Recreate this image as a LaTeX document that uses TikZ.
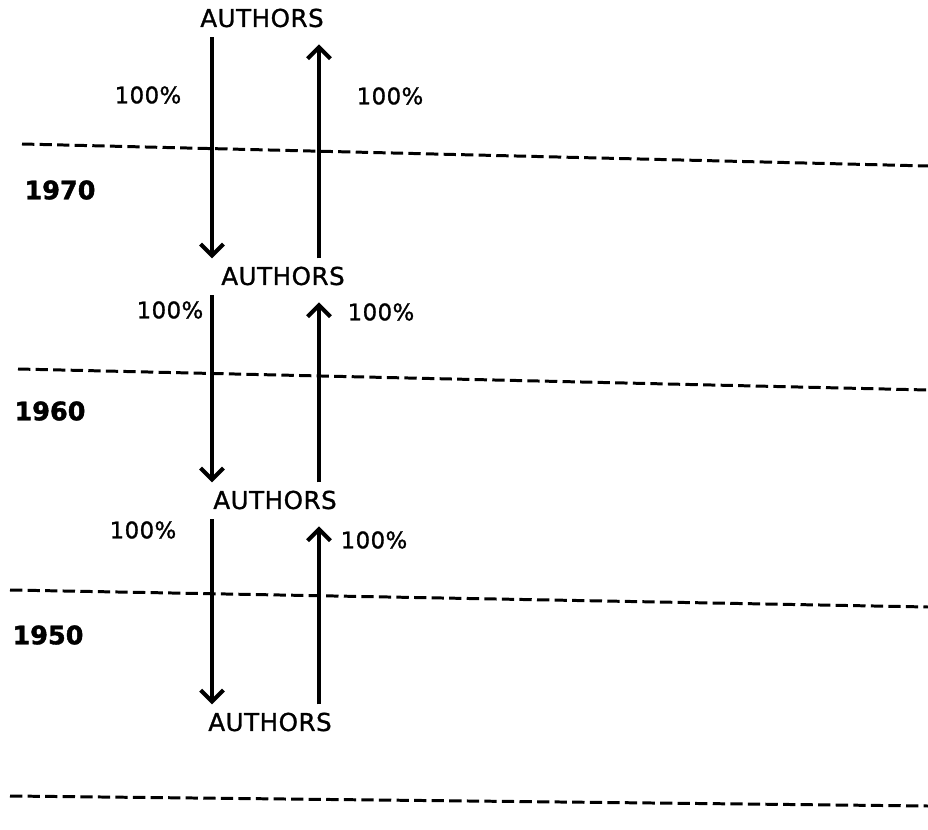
\documentclass[tikz,border=0pt]{standalone}
\usepackage{fontspec}
\setmainfont{DejaVu Sans}
\newfontfamily\plotfont[LetterSpace=2, FakeBold=1.2]{DejaVu Sans}
\newfontfamily\yearfont[FakeBold=1.5]{DejaVu Sans Bold}
\usepackage{tikz}
\usetikzlibrary{arrows.meta,positioning,calc}
\tikzset{
  auth/.style = {font=\plotfont\fontsize{14}{16}\selectfont, inner sep=1.5pt},
  pct/.style  = {font=\plotfont\fontsize{13}{15}\selectfont},
  yr/.style   = {font=\yearfont\fontsize{14.5}{16}\selectfont},
  flow/.style = {-{Straight Barb[length=6.5pt,width=13pt]}, line width=2.3pt},
  era/.style  = {dash pattern=on 7pt off 3pt, line width=1.7pt},
}

\begin{document}
\begin{tikzpicture}[x=0.02cm, y=-0.02cm]
        \useasboundingbox (0,0) rectangle (928,830);
        % -- Columns of the two flows ----------------------------------
        \coordinate (dn) at (212,0);
        \coordinate (up) at (319,0);
        % -- Author levels ---------------------------------------------
        \foreach \i/\x/\y in {1/262/18, 2/283/276, 3/275/500, 4/270/722}{
            \node[auth] (auth\i) at (\x,\y) {AUTHORS};
        }
        % -- Decade borders --------------------------------------------
        \foreach \k/\ya/\yb/\xa in {1/144/166/22, 2/369/390/18, 3/590/607/10, 4/796/806/10}{
            \coordinate (bl\k) at (\xa,\ya);
            \coordinate (br\k) at (928,\yb);
            \draw[era] (bl\k) -- (br\k);
        }
        % -- Decades ---------------------------------------------------
        \node[yr] (y1970) at (60,190) {1970};
        \node[yr] (y1960) at (50,411) {1960};
        \node[yr] (y1950) at (48,635) {1950};
        % -- Flows between levels --------------------------------------
        \foreach \i/\j in {1/2, 2/3, 3/4}{
            \draw[flow, shorten <=4pt, shorten >=3pt] (auth\i.south -| dn) -- (auth\j.north -| dn);
            \draw[flow, shorten <=3pt, shorten >=8pt] (auth\j.north -| up) -- (auth\i.south -| up);
        }
        % -- Shares ----------------------------------------------------
        \node[pct] (p1l) at (148,95) {100\%};
        \node[pct] (p1r) at (390,96) {100\%};
        \node[pct] (p2l) at (170,310) {100\%};
        \node[pct] (p2r) at (381,312) {100\%};
        \node[pct] (p3l) at (143,530) {100\%};
        \node[pct] (p3r) at (374,540) {100\%};
    \end{tikzpicture}
\end{document}
